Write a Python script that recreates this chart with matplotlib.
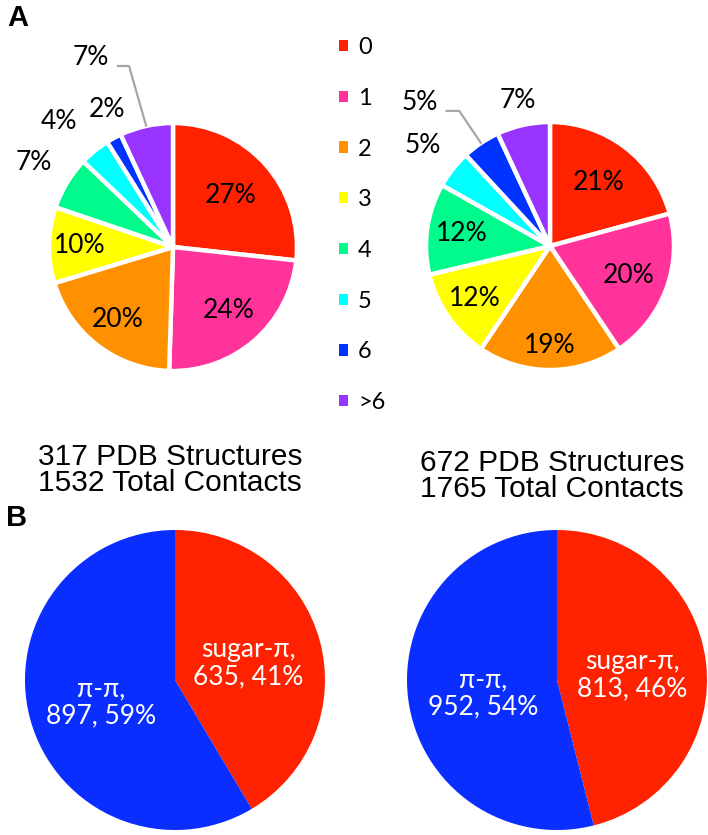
import matplotlib.pyplot as plt
import matplotlib.patches as mpatches
import numpy as np

W, H = 708, 835

# ---- data ----
legend_labels = ["0", "1", "2", "3", "4", "5", "6", ">6"]
colors = ["#FF2200", "#FF3399", "#FF9100", "#FFFF00",
          "#00FA8C", "#00FFFF", "#0033FF", "#9933FF"]

pct_a1 = [27, 24, 20, 10, 7, 4, 2, 7]
pct_a2 = [21, 20, 19, 12, 12, 5, 5, 7]

contact_types = ["sugar-π", "π-π"]
counts_b1 = [635, 897]
counts_b2 = [813, 952]
titles_b = ["317 PDB Structures\n1532 Total Contacts",
            "672 PDB Structures\n1765 Total Contacts"]
colors_b = ["#FF2200", "#0A2EFF"]

# label radius per wedge (None -> label placed with leader line)
dist_a1 = [0.62, 0.68, 0.74, 0.75, 1.31, 1.37, 1.23, None]
dist_a2 = [0.64, 0.68, 0.80, 0.74, 0.72, 1.31, None, 1.20]
# small angular nudges (degrees) for crowded outside labels
nudge_a1 = [0, 0, 0, 0, 0, 3, -3, 0]
nudge_a2 = [0, 0, 0, 0, 0, 0, 0, 0]

LABEL_FONT = "Lato"
TITLE_FONT = "Liberation Sans"

fig = plt.figure(figsize=(W / 100, H / 100), dpi=100)


def px_axes(cx, cy, r):
    # axes in pixel coordinates, data limits -1..1
    ax = fig.add_axes([(cx - r) / W, 1 - (cy + r) / H, 2 * r / W, 2 * r / H])
    ax.set_axis_off()
    return ax


def top_pie(ax, vals, dist, nudge, lead_text, lead_rel):
    wedges, _ = ax.pie(vals, colors=colors, startangle=90, counterclock=False,
                       wedgeprops=dict(edgecolor="white", linewidth=3.2))
    for w, v, d, n in zip(wedges, vals, dist, nudge):
        mid = np.deg2rad((w.theta1 + w.theta2) / 2 + n)
        if d is None:
            # small slice: label with a bent grey leader line
            ax.annotate(f"{v}%", xy=(np.cos(mid), np.sin(mid)), xytext=lead_text,
                        ha="center", va="center", fontsize=19, family=LABEL_FONT,
                        arrowprops=dict(arrowstyle="-", color="#A6A6A6", lw=1.6,
                                        shrinkA=4, shrinkB=0, relpos=(1.0, 0.15),
                                        connectionstyle=f"angle,angleA=0,angleB={lead_rel},rad=0"))
            continue
        ax.text(d * np.cos(mid), d * np.sin(mid), f"{v}%", ha="center", va="center",
                fontsize=19, family=LABEL_FONT)
    ax.set_xlim(-1, 1)
    ax.set_ylim(-1, 1)
    return wedges


ax1 = px_axes(173, 247, 124)
top_pie(ax1, pct_a1, dist_a1, nudge_a1, (-0.66, 1.53), 106)

ax2 = px_axes(550, 246, 124)
top_pie(ax2, pct_a2, dist_a2, nudge_a2, (-1.05, 1.16), 124)

handles = [mpatches.Patch(facecolor=c, edgecolor="none") for c in colors]
fig.legend(handles, legend_labels, loc="upper left",
           bbox_to_anchor=(339 / W, 1 - 37 / H), frameon=False,
           handlelength=0.36, handleheight=0.36, handletextpad=0.45,
           labelspacing=1.26, borderpad=0, borderaxespad=0,
           prop=dict(family=LABEL_FONT, size=17))


def bottom_pie(ax, counts, text_pos):
    total = sum(counts)
    ax.pie(counts, colors=colors_b, startangle=90, counterclock=False,
           wedgeprops=dict(linewidth=0))
    for name, c, (x, y) in zip(contact_types, counts, text_pos):
        ax.text(x, y, f"{name},\n{c}, {round(100 * c / total)}%", ha="center",
                va="center", color="white", fontsize=19, family=LABEL_FONT,
                linespacing=1.1)
    ax.set_xlim(-1, 1)
    ax.set_ylim(-1, 1)


ax3 = px_axes(175, 680, 150)
bottom_pie(ax3, counts_b1, [(0.49, 0.11), (-0.49, -0.15)])
ax4 = px_axes(557, 680, 150)
bottom_pie(ax4, counts_b2, [(0.5, 0.03), (-0.49, -0.09)])

fig.text(170 / W, 1 - 470 / H, titles_b[0], ha="center", va="center",
         fontsize=21.5, family=TITLE_FONT, linespacing=0.95)
fig.text(552 / W, 1 - 476 / H, titles_b[1], ha="center", va="center",
         fontsize=21.5, family=TITLE_FONT, linespacing=0.95)

fig.text(7 / W, 1 - 18 / H, "A", ha="left", va="center", fontsize=21,
         fontweight="bold", family=TITLE_FONT)
fig.text(6 / W, 1 - 518 / H, "B", ha="left", va="center", fontsize=21,
         fontweight="bold", family=TITLE_FONT)

fig.savefig("out.png", dpi=100)
